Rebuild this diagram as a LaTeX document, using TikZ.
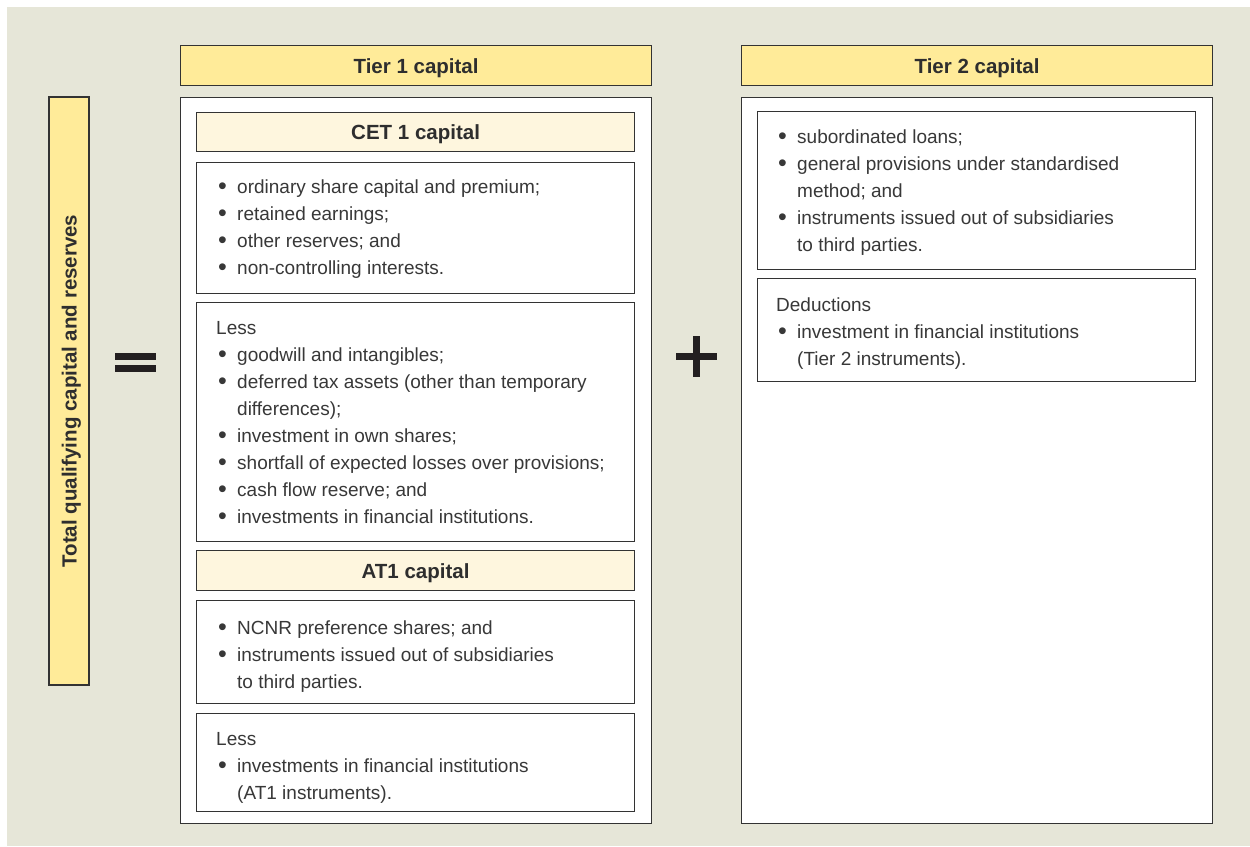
\documentclass[tikz,border=0pt]{standalone}
\usepackage{fontspec}
\setmainfont{Liberation Sans}
\definecolor{bg}{HTML}{E6E6D8}
\definecolor{yel}{HTML}{FFEB99}
\definecolor{lyel}{HTML}{FEF6DE}
\definecolor{ln}{HTML}{333333}
\definecolor{tx}{HTML}{2E2E2E}
\definecolor{btx}{HTML}{383838}
\definecolor{sym}{HTML}{231F20}
\newcommand{\bl}[1]{\hspace*{2pt}\makebox[19pt][l]{\raisebox{-1.2pt}{\fontsize{25}{27}\selectfont\textbullet}}#1}
\newcommand{\ct}[1]{\hspace*{21pt}#1}
\newcommand{\fs}{\rule{0pt}{15pt}}
\begin{document}
\begin{tikzpicture}[x=1pt,y=-1pt,
  panel/.style={draw=ln, line width=1.2pt, fill=white, inner sep=0pt, anchor=north west},
  hdr/.style={panel, fill=yel, font=\fontsize{20.5}{24}\selectfont\bfseries, text=tx, text height=15pt, text depth=0pt},
  subhdr/.style={panel, fill=lyel, font=\fontsize{20.5}{24}\selectfont\bfseries, text=tx, text height=15pt, text depth=0pt},
  txt/.style={anchor=north west, inner sep=0pt, align=left, text=btx, font=\fontsize{19}{27}\selectfont}]
\useasboundingbox (0,0) rectangle (1250,846);
\fill[bg] (7,7) rectangle (1250,846);

% left label
\node[hdr, anchor=center, rotate=90, minimum width=588, minimum height=40] (lbl) at (69,391) {Total qualifying capital and reserves};

% equals sign
\fill[sym] (115,353) rectangle (156,360);
\fill[sym] (115,365) rectangle (156,372);

% plus sign
\fill[sym] (676,353) rectangle (717,360);
\fill[sym] (693,336) rectangle (700,377);

% Tier 1
\node[hdr, minimum width=471, minimum height=40] (t1h) at (180,45) {Tier 1 capital};
\node[panel, minimum width=471, minimum height=726] (t1) at (180,97) {};
\node[subhdr, minimum width=438, minimum height=39] (cet) at (196,112) {CET 1 capital};
\node[panel, minimum width=438, minimum height=131] (b1) at (196,162) {};
\node[txt] (b1t) at (216,178.5) {\fs\bl{ordinary share capital and premium;}\\
\bl{retained earnings;}\\
\bl{other reserves; and}\\
\bl{non-controlling interests.}};
\node[panel, minimum width=438, minimum height=239] (b2) at (196,302) {};
\node[txt] (b2t) at (216,319.5) {\fs Less\\
\bl{goodwill and intangibles;}\\
\bl{deferred tax assets (other than temporary}\\
\ct{differences);}\\
\bl{investment in own shares;}\\
\bl{shortfall of expected losses over provisions;}\\
\bl{cash flow reserve; and}\\
\bl{investments in financial institutions.}};
\node[subhdr, minimum width=438, minimum height=40] (at1) at (196,550) {AT1 capital};
\node[panel, minimum width=438, minimum height=103] (b3) at (196,600) {};
\node[txt] (b3t) at (216,619) {\fs\bl{NCNR preference shares; and}\\
\bl{instruments issued out of subsidiaries}\\
\ct{to third parties.}};
\node[panel, minimum width=438, minimum height=98] (b4) at (196,713) {};
\node[txt] (b4t) at (216,730.5) {\fs Less\\
\bl{investments in financial institutions}\\
\ct{(AT1 instruments).}};

% Tier 2
\node[hdr, minimum width=471, minimum height=40] (t2h) at (741,45) {Tier 2 capital};
\node[panel, minimum width=471, minimum height=726] (t2) at (741,97) {};
\node[panel, minimum width=438, minimum height=158] (c1) at (757,111) {};
\node[txt] (c1t) at (776,128.5) {\fs\bl{subordinated loans;}\\
\bl{general provisions under standardised}\\
\ct{method; and}\\
\bl{instruments issued out of subsidiaries}\\
\ct{to third parties.}};
\node[panel, minimum width=438, minimum height=103] (c2) at (757,278) {};
\node[txt] (c2t) at (776,296) {\fs Deductions\\
\bl{investment in financial institutions}\\
\ct{(Tier 2 instruments).}};
\end{tikzpicture}
\end{document}
